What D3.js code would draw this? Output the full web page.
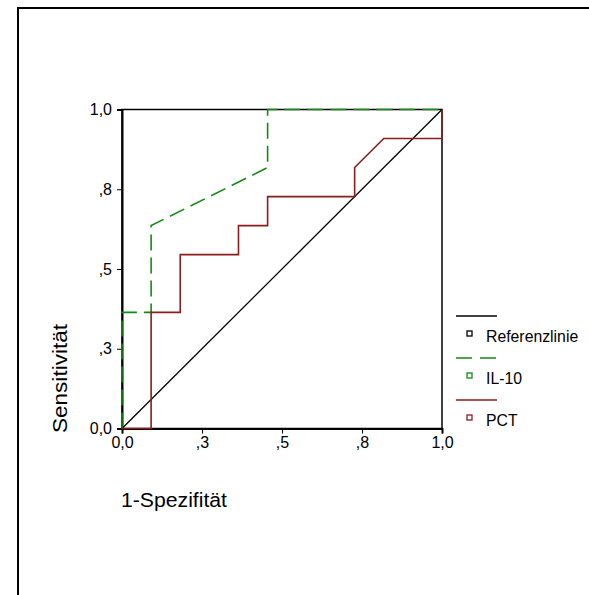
<!DOCTYPE html>
<html>
<head>
<meta charset="utf-8">
<script src="https://cdn.jsdelivr.net/npm/d3@7"></script>
<style>
  html, body { margin: 0; padding: 0; background: #fff; }
  svg { display: block; font-family: Arial, "Liberation Sans", sans-serif; }
</style>
</head>
<body>
<svg id="chart" width="589" height="595"></svg>
<script>
// ROC curve points (1-specificity, sensitivity)
const il10X = [0, 0, 0.091, 0.091, 0.273, 0.455, 0.455, 1];
const il10Y = [0, 0.364, 0.364, 0.636, 0.727, 0.818, 1, 1];
const pctX = [0, 0.091, 0.091, 0.182, 0.182, 0.364, 0.364, 0.455, 0.455, 0.727, 0.727, 0.818, 1, 1];
const pctY = [0, 0, 0.364, 0.364, 0.545, 0.545, 0.636, 0.636, 0.727, 0.727, 0.818, 0.909, 0.909, 1];
const refX = [0, 1];
const refY = [0, 1];

const tickValues = [0, 0.25, 0.5, 0.75, 1];
const tickLabels = ["0,0", ",3", ",5", ",8", "1,0"];

const legendNames = ["Referenzlinie", "IL-10", "PCT"];
const legendColors = ["#000000", "#138a13", "#8c1d1d"];

const svg = d3.select("#chart");

// outer frame (top and left edges)
svg.append("line").attr("x1", 18).attr("x2", 589).attr("y1", 8).attr("y2", 8)
  .attr("stroke", "#000").attr("stroke-width", 2);
svg.append("line").attr("x1", 18).attr("x2", 18).attr("y1", 7).attr("y2", 595)
  .attr("stroke", "#000").attr("stroke-width", 2);

const plotL = 122, plotR = 442, plotT = 109.5, plotB = 428.5;
const x = d3.scaleLinear().domain([0, 1]).range([plotL, plotR]);
const y = d3.scaleLinear().domain([0, 1]).range([plotB, plotT]);

// plot frame
svg.append("rect").attr("x", plotL).attr("y", plotT)
  .attr("width", plotR - plotL).attr("height", plotB - plotT)
  .attr("fill", "none").attr("stroke", "#000").attr("stroke-width", 1.5);

// axes
const fmt = (d) => tickLabels[tickValues.indexOf(d)];
const xAxis = svg.append("g").attr("transform", `translate(0,${plotB})`)
  .call(d3.axisBottom(x).tickValues(tickValues).tickFormat(fmt).tickSize(5).tickPadding(3));
const yAxis = svg.append("g").attr("transform", `translate(${plotL},0)`)
  .call(d3.axisLeft(y).tickValues(tickValues).tickFormat(fmt).tickSize(5).tickPadding(5));
[xAxis, yAxis].forEach(g => {
  g.select(".domain").attr("stroke", "#000").attr("stroke-width", 2);
  g.selectAll(".tick line").attr("stroke", "#000").attr("stroke-width", 1);
  g.selectAll(".tick text").attr("fill", "#000")
    .style("font-size", "16px").style("font-family", "Arial, 'Liberation Sans', sans-serif");
});

// axis titles
svg.append("text").attr("x", 121).attr("y", 507)
  .attr("textLength", 106).attr("lengthAdjust", "spacingAndGlyphs")
  .style("font-size", "20px").attr("fill", "#000").text("1-Spezifität");
svg.append("text").attr("transform", "translate(67,433) rotate(-90)")
  .attr("textLength", 109).attr("lengthAdjust", "spacingAndGlyphs")
  .style("font-size", "20px").attr("fill", "#000").text("Sensitivität");

// curves
const line = d3.line().x(d => x(d[0])).y(d => y(d[1]));
const zip = (a, b) => a.map((v, i) => [v, b[i]]);

svg.append("path").datum(zip(refX, refY)).attr("d", line)
  .attr("fill", "none").attr("stroke", legendColors[0]).attr("stroke-width", 1.3);
svg.append("path").datum(zip(il10X, il10Y)).attr("d", line)
  .attr("fill", "none").attr("stroke", legendColors[1]).attr("stroke-width", 1.6)
  .attr("stroke-dasharray", "16,7");
svg.append("path").datum(zip(pctX, pctY)).attr("d", line)
  .attr("fill", "none").attr("stroke", legendColors[2]).attr("stroke-width", 1.6);

// legend
const legend = svg.append("g");
legendNames.forEach((name, i) => {
  const ly = 316 + i * 42;
  legend.append("line").attr("x1", 456).attr("x2", 497).attr("y1", ly).attr("y2", ly)
    .attr("stroke", legendColors[i]).attr("stroke-width", 1.6)
    .attr("stroke-dasharray", i === 1 ? "16,8" : null);
  legend.append("rect").attr("x", 467).attr("y", ly + 15).attr("width", 5).attr("height", 5)
    .attr("fill", "#fff").attr("stroke", legendColors[i]).attr("stroke-width", 1.3);
  legend.append("text").attr("x", 486).attr("y", ly + 26)
    .style("font-size", "15.8px").attr("fill", "#000").text(name);
});
</script>
</body>
</html>
